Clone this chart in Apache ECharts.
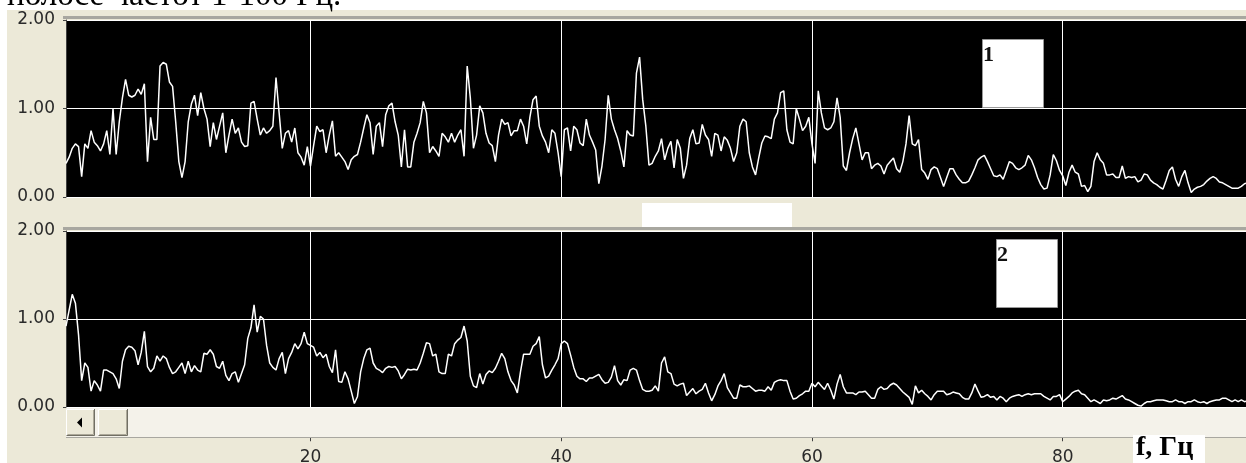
<!DOCTYPE html>
<html>
<head>
<meta charset="utf-8">
<script src="https://cdn.jsdelivr.net/npm/echarts@6/dist/echarts.min.js"></script>
<style>
  html, body { margin: 0; padding: 0; background: #fff; }
  #wrap { position: relative; width: 1246px; height: 463px; overflow: hidden; }
  #panel { position: absolute; left: 7px; top: 10px; right: 0; bottom: 0; background: #ECE9D8; }
  #chart { position: absolute; left: 0; top: 0; width: 1246px; height: 463px; }
</style>
</head>
<body>
<div id="wrap">
  <div id="panel"></div>
  <div id="chart"></div>
</div>
<script>
// sampling grid of the spectra (Hz)
const freqStart = 0.5;
const freqStep = 0.25;
const freqMax = 94.62;

// spectrum 1 (upper panel), amplitude
const spectrum1 = [
  0.38,0.45,0.55,0.60,0.57,0.23,0.60,0.55,0.75,0.62,
  0.58,0.52,0.60,0.75,0.48,1.00,0.48,0.85,1.12,1.33,
  1.15,1.13,1.15,1.22,1.16,1.28,0.40,0.90,0.65,0.65,
  1.48,1.52,1.50,1.30,1.25,0.85,0.40,0.22,0.40,0.85,
  1.05,1.15,0.92,1.18,1.00,0.88,0.57,0.84,0.65,0.80,
  0.95,0.50,0.70,0.88,0.72,0.78,0.62,0.57,0.58,1.06,
  1.08,0.88,
  0.70,0.78,0.72,0.75,0.80,1.35,0.95,0.55,0.72,0.75,
  0.62,0.78,0.50,0.45,0.36,0.57,0.35,0.58,0.80,0.74,
  0.76,0.50,0.70,0.86,0.46,0.50,0.45,0.40,0.31,0.42,
  0.46,0.48,0.62,0.78,0.93,0.84,0.48,0.80,0.84,0.57,
  0.93,1.03,1.06,0.85,0.70,0.34,0.76,0.34,0.34,0.62,
  0.72,0.84,1.08,0.95,0.50,0.57,0.52,0.46,0.72,0.68,
  0.62,0.72,
  0.62,0.70,0.76,0.46,1.48,1.12,0.55,0.70,1.03,0.95,
  0.72,0.61,0.58,0.40,0.70,0.88,0.82,0.84,0.69,0.75,
  0.75,0.88,0.80,0.60,0.90,1.10,1.14,0.80,0.69,0.62,
  0.50,0.76,0.72,0.50,0.23,0.76,0.78,0.52,0.80,0.76,
  0.61,0.58,0.88,0.70,0.62,0.53,0.15,0.35,0.65,1.15,
  0.88,0.76,0.66,0.52,0.34,0.75,0.70,0.69,1.40,1.58,
  1.10,0.80,0.36,
  0.38,0.46,0.52,0.66,0.42,0.55,0.63,0.33,0.65,0.55,
  0.21,0.36,0.66,0.76,0.60,0.61,0.82,0.70,0.65,0.46,
  0.72,0.70,0.52,0.68,0.64,0.55,0.40,0.50,0.80,0.88,
  0.85,0.50,0.34,0.25,0.44,0.61,0.69,0.68,0.66,0.88,
  0.95,1.18,1.20,0.76,0.62,0.60,1.00,0.88,0.75,0.80,
  0.90,0.60,0.38,1.20,0.95,0.78,0.76,0.78,0.85,1.12,
  0.90,0.35,
  0.30,0.50,0.66,0.78,0.60,0.42,0.50,0.50,0.32,0.36,
  0.38,0.35,0.26,0.36,0.40,0.44,0.32,0.28,0.40,0.60,
  0.92,0.60,0.58,0.65,0.31,0.27,0.20,0.31,0.34,0.32,
  0.22,0.12,0.22,0.32,0.32,0.25,0.20,0.16,0.16,0.18,
  0.25,0.33,0.42,0.45,0.47,0.40,0.32,0.24,0.23,0.25,
  0.20,0.30,0.40,0.38,0.33,0.31,0.33,0.36,0.47,0.42,
  0.33,0.22,
  0.14,0.09,0.10,0.25,0.48,0.41,0.30,0.24,0.13,0.28,
  0.36,0.28,0.26,0.12,0.13,0.06,0.12,0.40,0.50,0.42,
  0.38,0.25,0.25,0.26,0.22,0.22,0.35,0.21,0.23,0.22,
  0.23,0.17,0.19,0.26,0.25,0.19,0.16,0.14,0.11,0.09,
  0.19,0.30,0.34,0.20,0.12,0.23,0.30,0.16,0.05,0.09,
  0.11,0.12,0.14,0.18,0.21,0.23,0.21,0.17,0.16,0.14,
  0.12,0.10,0.10,0.10,0.12,0.15,0.16
];

// spectrum 2 (lower panel), amplitude
const spectrum2 = [
  0.92,1.10,1.28,1.18,0.82,0.30,0.50,0.45,0.18,0.30,
  0.25,0.18,0.42,0.42,0.40,0.38,0.32,0.21,0.52,0.65,
  0.69,0.68,0.64,0.48,0.62,0.86,0.46,0.40,0.44,0.58,
  0.52,0.58,0.55,0.45,0.38,0.40,0.45,0.50,0.38,0.52,
  0.40,0.47,0.42,0.40,0.61,0.60,0.65,0.60,0.46,0.44,
  0.52,0.36,0.30,0.38,0.40,0.28,0.38,0.48,0.78,0.90,
  1.16,0.85,1.03,1.00,0.70,0.50,0.45,0.42,0.55,0.62,
  0.38,0.55,0.62,0.72,0.66,0.72,0.85,0.72,0.70,0.68,
  0.58,0.62,0.56,0.60,0.46,0.39,0.65,0.29,0.28,0.40,
  0.32,0.18,0.04,0.12,0.40,0.55,0.65,0.67,0.50,0.44,
  0.42,0.39,0.44,0.46,0.45,0.46,0.41,0.32,0.37,0.43,
  0.42,0.43,
  0.42,0.50,0.61,0.73,0.72,0.58,0.60,0.40,0.38,0.38,
  0.60,0.58,0.72,0.76,0.79,0.92,0.75,0.35,0.24,0.22,
  0.38,0.26,0.37,0.41,0.39,0.44,0.52,0.61,0.55,0.40,
  0.30,0.25,0.16,0.40,0.60,0.60,0.60,0.69,0.72,0.80,
  0.48,0.33,0.35,0.42,0.48,0.55,0.72,0.75,0.72,0.59,
  0.45,0.35,0.32,0.32,0.29,0.33,0.33,0.35,0.37,0.31,
  0.27,0.28,0.34,0.47,0.30,0.25,0.31,0.30,0.42,0.44,
  0.42,0.30,0.20,0.18,0.18,0.19,0.24,0.18,0.50,0.57,
  0.40,0.38,0.26,0.24,0.26,0.27,0.13,0.17,0.21,0.15,
  0.18,0.20,0.27,0.16,0.07,0.14,0.24,0.30,0.38,0.22,
  0.16,0.10,0.10,0.25,0.23,0.23,0.24,0.21,0.18,0.19,
  0.19,0.18,0.23,0.19,0.28,0.30,0.31,0.30,0.30,0.18,
  0.09,0.10,0.13,0.15,0.18,0.18,0.27,0.23,
  0.28,0.24,0.20,0.27,0.19,0.09,0.26,0.37,0.23,0.16,
  0.16,0.16,0.14,0.17,0.17,0.18,0.14,0.10,0.10,0.20,
  0.23,0.20,0.21,0.25,0.27,0.25,0.21,0.17,0.14,0.11,
  0.03,0.24,0.16,0.19,0.15,0.12,0.08,0.14,0.18,0.18,
  0.18,0.14,0.15,0.17,0.16,0.15,0.11,0.09,0.09,0.16,
  0.26,0.18,0.11,0.12,0.14,0.11,0.12,0.08,0.12,0.10,
  0.06,0.10,0.12,0.13,0.14,0.12,0.14,0.15,0.14,0.15,
  0.15,0.15,0.12,0.10,0.08,0.12,0.12,0.14,0.06,0.09,
  0.12,0.16,0.18,0.19,0.15,0.14,0.10,0.06,0.08,0.06,
  0.04,0.08,0.07,0.08,0.10,0.09,0.11,0.13,0.09,0.08,
  0.06,0.04,0.02,0.01,0.04,0.06,0.06,0.07,0.08,0.08,
  0.08,0.07,0.06,0.06,0.08,0.06,0.06,0.04,0.06,0.06,
  0.08,0.06,0.05,0.06,0.04,0.06,0.07,0.08,0.08,0.10,
  0.10,0.08,0.06,0.08,0.06,0.08,0.06,0.07
];

const freqTicks = [20, 40, 60, 80];
const ampMin = 0, ampMax = 2, ampStep = 1;
const panelLabels = ["1", "2"];
const headText = "полосе частот 1-100 Гц.";
const unitText = "f, Гц";

const toPairs = (arr) => arr.map((v, i) => [freqStart + i * freqStep, v]);

const chart = echarts.init(document.getElementById("chart"));

const plotLeft = 66;
const plotWidth = 1180;
const pxPerHz = plotWidth / (freqMax - freqStart);

const yAxisCommon = {
  type: "value",
  min: ampMin,
  max: ampMax,
  interval: ampStep,
  axisLine: { show: true, lineStyle: { color: "#404040", width: 1 } },
  axisTick: { show: true, length: 3, lineStyle: { color: "#404040" } },
  axisLabel: {
    color: "#2a2a2a",
    fontSize: 17,
    fontFamily: "DejaVu Sans",
    margin: 11,
    formatter: (v) => v.toFixed(2),
  },
  splitLine: { show: true, lineStyle: { color: "#ffffff", width: 1 } },
};

const xAxisPanel = {
  type: "value",
  min: freqStart,
  max: freqMax,
  show: false,
};

const gridLines = {
  silent: true,
  symbol: ["none", "none"],
  label: { show: false },
  lineStyle: { color: "#ffffff", width: 1, type: "solid" },
  data: freqTicks.map((f) => ({ xAxis: f })),
};

const lineSeries = (data, idx) => ({
  type: "line",
  xAxisIndex: idx,
  yAxisIndex: idx,
  data: toPairs(data),
  showSymbol: false,
  symbol: "none",
  lineStyle: { color: "#ffffff", width: 1.5 },
  markLine: gridLines,
  animation: false,
});

// classic raised button, flat list of elements
function button(x, y, w, h) {
  return [
    { type: "rect", z: 30, shape: { x: x, y: y, width: w, height: h }, style: { fill: "#ECE9D8" } },
    { type: "polyline", z: 31, shape: { points: [[x + 0.5, y + h], [x + 0.5, y + 0.5], [x + w, y + 0.5]] }, style: { stroke: "#ffffff", lineWidth: 1, fill: "none" } },
    { type: "polyline", z: 31, shape: { points: [[x + 0.5, y + h - 0.5], [x + w - 0.5, y + h - 0.5], [x + w - 0.5, y]] }, style: { stroke: "#716f64", lineWidth: 1, fill: "none" } },
    { type: "polyline", z: 31, shape: { points: [[x + 1.5, y + h - 1.5], [x + w - 1.5, y + h - 1.5], [x + w - 1.5, y + 1]] }, style: { stroke: "#aca899", lineWidth: 1, fill: "none" } },
  ];
}

const option = {
  animation: false,
  grid: [
    { left: plotLeft, top: 20, width: plotWidth, height: 177, show: true, backgroundColor: "#000", borderWidth: 0 },
    { left: plotLeft, top: 231, width: plotWidth, height: 176, show: true, backgroundColor: "#000", borderWidth: 0 },
    { left: plotLeft - freqStart * pxPerHz, top: 437, right: 0, height: 1 },
  ],
  xAxis: [
    Object.assign({ gridIndex: 0 }, xAxisPanel),
    Object.assign({ gridIndex: 1 }, xAxisPanel),
    {
      gridIndex: 2,
      type: "value",
      min: 0,
      max: freqMax,
      position: "top",
      axisLine: { show: false },
      axisTick: { show: true, inside: true, length: 4, customValues: freqTicks, lineStyle: { color: "#404040" } },
      axisLabel: {
        inside: true,
        margin: 12,
        color: "#2a2a2a",
        fontSize: 17,
        fontFamily: "DejaVu Sans",
        customValues: freqTicks,
        formatter: (v) => String(v),
      },
      splitLine: { show: false },
    },
  ],
  yAxis: [
    Object.assign({ gridIndex: 0 }, yAxisCommon),
    Object.assign({ gridIndex: 1 }, yAxisCommon),
    { gridIndex: 2, show: false, min: 0, max: 1 },
  ],
  series: [lineSeries(spectrum1, 0), lineSeries(spectrum2, 1)],
  graphic: [
    // heading fragment cut by the top edge
    { type: "text", left: 7, top: -20, z: 10,
      style: { text: headText, font: "33px 'Liberation Serif'", fill: "#000" } },
    // frames above the panels
    { type: "rect", shape: { x: 63, y: 16, width: 1183, height: 3 }, style: { fill: "#a8a7a0" }, z: 10 },
    { type: "rect", shape: { x: 63, y: 227, width: 1183, height: 3 }, style: { fill: "#a8a7a0" }, z: 10 },
    // white strip between the panels
    { type: "rect", shape: { x: 642, y: 203, width: 150, height: 24 }, style: { fill: "#fff" }, z: 10 },
    // scroll bar
    { type: "rect", shape: { x: 66, y: 408, width: 1180, height: 29 }, style: { fill: "#f4f2ea" }, z: 10 },
    { type: "line", shape: { x1: 66, y1: 437.5, x2: 1246, y2: 437.5 }, style: { stroke: "#a8a7a0", lineWidth: 1 }, z: 10 },
  ].concat(button(66, 409, 29, 27), button(98, 409, 30, 27), [
    { type: "polygon", shape: { points: [[77, 422.5], [82, 417.5], [82, 427.5]] }, style: { fill: "#000" }, z: 32 },
    // series labels
    { type: "rect", shape: { x: 982.5, y: 39.5, width: 61, height: 68 }, style: { fill: "#fff", stroke: "#999", lineWidth: 1 }, z: 20 },
    { type: "text", x: 983, y: 44, z: 21, style: { text: panelLabels[0], font: "bold 22px 'Liberation Serif'", fill: "#111" } },
    { type: "rect", shape: { x: 996.5, y: 239.5, width: 61, height: 68 }, style: { fill: "#fff", stroke: "#999", lineWidth: 1 }, z: 20 },
    { type: "text", x: 997, y: 244, z: 21, style: { text: panelLabels[1], font: "bold 22px 'Liberation Serif'", fill: "#111" } },
    // unit box
    { type: "rect", shape: { x: 1133, y: 435, width: 72, height: 28 }, style: { fill: "#fff" }, z: 20 },
    { type: "text", x: 1136, y: 434, z: 21, style: { text: unitText, font: "bold 28px 'Liberation Serif'", fill: "#000" } },
  ]),
};

chart.setOption(option);
</script>
</body>
</html>
